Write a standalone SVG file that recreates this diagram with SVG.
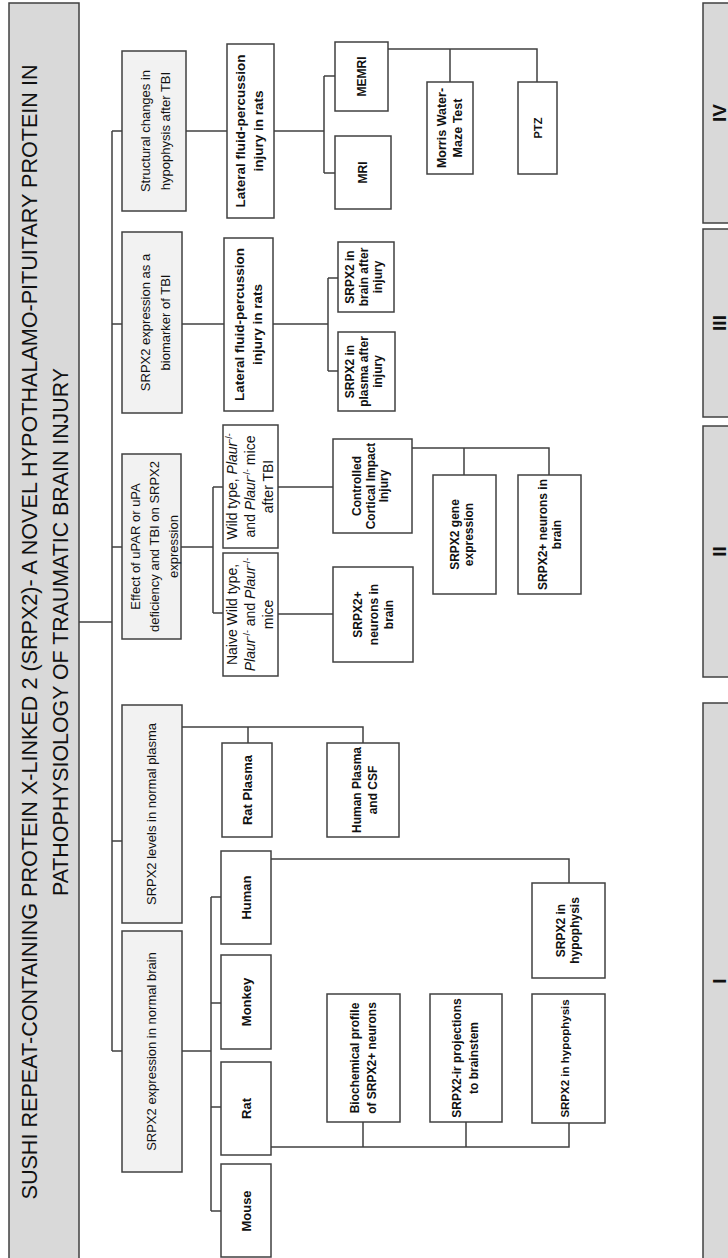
<svg xmlns="http://www.w3.org/2000/svg" width="728" height="1258" viewBox="0 0 728 1258">
<style>
text{font-family:"Liberation Sans",Arial,sans-serif;fill:#111;text-anchor:middle}
.ttl{font-size:22.5px}
.l1t{font-size:13px}
.mt{font-size:14px}
.bt{font-size:12px;font-weight:bold}
.bt13{font-size:13px;font-weight:bold}
.bt135{font-size:13.5px;font-weight:bold}
.rn{font-size:19px;font-weight:bold}
.hd{fill:#d9d9d9;stroke:#404040;stroke-width:1.5}
.l1{fill:#f2f2f2;stroke:#404040;stroke-width:1.5}
.bx{fill:#fff;stroke:#404040;stroke-width:1.5}
#connectors path{fill:none;stroke:#404040;stroke-width:1.5}
.i{font-style:italic}
</style>
<rect x="0" y="0" width="728" height="1258" fill="#fff"/>
<g id="connectors">
<path d="M79,622 H112"/>
<path d="M112,131 V1051"/>
<path d="M112,131 H122 M112,324 H122 M112,547 H122 M112,841 H122 M112,1051 H122"/>
<path d="M186,131 H227"/>
<path d="M274,131 H324 M324,76 V173 M324,76 H335 M324,173 H335"/>
<path d="M388,49 H537 V82 M450,49 V82"/>
<path d="M182,324 H224"/>
<path d="M273,324 H328 M328,278 V371 M328,278 H338 M328,371 H338"/>
<path d="M181,547 H213 M213,487 V613 M213,487 H223 M213,613 H223"/>
<path d="M278,487 H333 M278,614 H333"/>
<path d="M412,448 H549 V475 M464,448 V475"/>
<path d="M182,727 H363 V743 M248,727 V743"/>
<path d="M182,1051 H211 M211,897 V1211 M211,897 H221 M211,1003 H221 M211,1107 H221 M211,1211 H221"/>
<path d="M271,859 H569 V883"/>
<path d="M271,1147 H569 V1123 M363,1147 V1122 M466,1147 V1122"/>
</g>
<g id="title"><rect class="hd" x="9" y="3" width="70" height="1260"/>
<g transform="translate(44 632) rotate(-90)"><text class="ttl" y="-7" textLength="1135" lengthAdjust="spacingAndGlyphs">SUSHI REPEAT-CONTAINING PROTEIN X-LINKED 2 (SRPX2)- A NOVEL HYPOTHALAMO-PITUITARY PROTEIN IN</text><text class="ttl" y="24" textLength="528" lengthAdjust="spacingAndGlyphs">PATHOPHYSIOLOGY OF TRAUMATIC BRAIN INJURY</text></g></g>
<g id="phase-IV"><rect class="hd" x="703" y="3" width="30" height="220"/><text class="rn" transform="translate(718 113) rotate(-90)" y="8">IV</text></g>
<g id="phase-III"><rect class="hd" x="703" y="229" width="30" height="188"/><text class="rn" transform="translate(718 323) rotate(-90)" y="8">III</text></g>
<g id="phase-II"><rect class="hd" x="703" y="426" width="30" height="251"/><text class="rn" transform="translate(718 551.5) rotate(-90)" y="8">II</text></g>
<g id="phase-I"><rect class="hd" x="703" y="703" width="30" height="560"/><text class="rn" transform="translate(718 981) rotate(-90)" y="8">I</text></g>

<g id="n-structural"><rect class="l1" x="122" y="51" width="64" height="160"/>
<g transform="translate(154 131) rotate(-90)"><text class="l1t" y="-4">Structural changes in</text><text class="l1t" y="16">hypophysis after TBI</text></g></g>
<g id="n-biomarker"><rect class="l1" x="122" y="232" width="60" height="181"/>
<g transform="translate(152 322.5) rotate(-90)"><text class="l1t" y="-2">SRPX2 expression as a</text><text class="l1t" y="18">biomarker of TBI</text></g></g>
<g id="n-effect"><rect class="l1" x="122" y="454" width="59" height="185"/>
<g transform="translate(151.5 546.5) rotate(-90)"><text class="l1t" y="-11.5">Effect of uPAR or uPA</text><text class="l1t" y="7.5">deficiency and TBI on SRPX2</text><text class="l1t" y="26.5">expression</text></g></g>
<g id="n-plasma-levels"><rect class="l1" x="122" y="705" width="60" height="218"/>
<g transform="translate(152 814) rotate(-90)"><text class="l1t" y="4">SRPX2 levels in normal plasma</text></g></g>
<g id="n-normal-brain"><rect class="l1" x="122" y="931" width="60" height="241"/>
<g transform="translate(152 1051.5) rotate(-90)"><text class="l1t" y="4">SRPX2 expression in normal brain</text></g></g>

<g id="n-lfp-structural"><rect class="bx" x="227" y="44" width="47" height="174"/>
<g transform="translate(250.5 131) rotate(-90)"><text class="bt135" y="-5.5">Lateral fluid-percussion</text><text class="bt135" y="12.5">injury in rats</text></g></g>
<g id="n-memri"><rect class="bx" x="335" y="42" width="53" height="69"/>
<g transform="translate(361.5 76.5) rotate(-90)"><text class="bt" y="4.5">MEMRI</text></g></g>
<g id="n-mri"><rect class="bx" x="335" y="136" width="56" height="73"/>
<g transform="translate(363 172.5) rotate(-90)"><text class="bt" y="4">MRI</text></g></g>
<g id="n-morris"><rect class="bx" x="427" y="82" width="46" height="92"/>
<g transform="translate(450 128) rotate(-90)"><text class="bt" style="font-size:12.5px" y="-4">Morris Water-</text><text class="bt" style="font-size:12.5px" y="12">Maze Test</text></g></g>
<g id="n-ptz"><rect class="bx" x="518" y="82" width="39" height="92"/>
<g transform="translate(537.5 128) rotate(-90)"><text class="bt" style="font-size:11px" y="4.5">PTZ</text></g></g>

<g id="n-lfp-biomarker"><rect class="bx" x="224" y="238" width="49" height="173"/>
<g transform="translate(248.5 324.5) rotate(-90)"><text class="bt135" y="-4.5">Lateral fluid-percussion</text><text class="bt135" y="13.5">injury in rats</text></g></g>
<g id="n-brain-after"><rect class="bx" x="338" y="242" width="56" height="70"/>
<g transform="translate(366 277) rotate(-90)"><text class="bt" y="-12">SRPX2 in</text><text class="bt" y="2">brain after</text><text class="bt" y="16">injury</text></g></g>
<g id="n-plasma-after"><rect class="bx" x="338" y="332" width="57" height="79"/>
<g transform="translate(366.5 371.5) rotate(-90)"><text class="bt" y="-12.5">SRPX2 in</text><text class="bt" y="1.5">plasma after</text><text class="bt" y="15.5">injury</text></g></g>

<g id="n-wild-tbi"><rect class="bx" x="223" y="425" width="55" height="123"/>
<g transform="translate(250.5 486.5) rotate(-90)"><text class="mt" y="-13.5">Wild type, <tspan class="i">Plaur</tspan><tspan font-size="9" baseline-shift="super">-/-</tspan></text><text class="mt" y="4.5">and <tspan class="i">Plaur</tspan><tspan font-size="9" baseline-shift="super">-/-</tspan> mice</text><text class="mt" y="22.5">after TBI</text></g></g>
<g id="n-naive"><rect class="bx" x="223" y="553" width="55" height="123"/>
<g transform="translate(250.5 614.5) rotate(-90)"><text class="mt" y="-13.5">Naive Wild type,</text><text class="mt" y="4.5"><tspan class="i">Plaur</tspan><tspan font-size="9" baseline-shift="super">-/-</tspan> and <tspan class="i">Plaur</tspan><tspan font-size="9" baseline-shift="super">-/-</tspan></text><text class="mt" y="22.5">mice</text></g></g>
<g id="n-cci"><rect class="bx" x="333" y="439" width="79" height="94"/>
<g transform="translate(372.5 486) rotate(-90)"><text class="bt" y="-11.5">Controlled</text><text class="bt" y="2">Cortical Impact</text><text class="bt" y="15.5">Injury</text></g></g>
<g id="n-neurons-naive"><rect class="bx" x="333" y="567" width="80" height="95"/>
<g transform="translate(373 614.5) rotate(-90)"><text class="bt" y="-11">SRPX2+</text><text class="bt" y="4.5">neurons in</text><text class="bt" y="20">brain</text></g></g>
<g id="n-gene-expression"><rect class="bx" x="433" y="475" width="63" height="119"/>
<g transform="translate(464.5 534.5) rotate(-90)"><text class="bt" y="-5.5">SRPX2 gene</text><text class="bt" y="8.5">expression</text></g></g>
<g id="n-neurons-cci"><rect class="bx" x="518" y="475" width="63" height="119"/>
<g transform="translate(549.5 534.5) rotate(-90)"><text class="bt" y="-2.5">SRPX2+ neurons in</text><text class="bt" y="11.5">brain</text></g></g>

<g id="n-rat-plasma"><rect class="bx" x="222" y="743" width="50" height="94"/>
<g transform="translate(247 790) rotate(-90)"><text class="bt13" y="4.5">Rat Plasma</text></g></g>
<g id="n-human-plasma"><rect class="bx" x="327" y="743" width="72" height="94"/>
<g transform="translate(363 790) rotate(-90)"><text class="bt" y="-2">Human Plasma</text><text class="bt" y="14">and CSF</text></g></g>

<g id="n-human"><rect class="bx" x="221" y="851" width="50" height="93"/>
<g transform="translate(246 897.5) rotate(-90)"><text class="bt13" y="5">Human</text></g></g>
<g id="n-monkey"><rect class="bx" x="221" y="955" width="50" height="94"/>
<g transform="translate(246 1002) rotate(-90)"><text class="bt13" y="5">Monkey</text></g></g>
<g id="n-rat"><rect class="bx" x="221" y="1062" width="50" height="93"/>
<g transform="translate(246 1108.5) rotate(-90)"><text class="bt13" y="5">Rat</text></g></g>
<g id="n-mouse"><rect class="bx" x="221" y="1164" width="50" height="93"/>
<g transform="translate(246 1211) rotate(-90)"><text class="bt13" y="5">Mouse</text></g></g>

<g id="n-biochem"><rect class="bx" x="327" y="994" width="73" height="128"/>
<g transform="translate(363.5 1058) rotate(-90)"><text class="bt" y="-4.5">Biochemical profile</text><text class="bt" y="12.5">of SRPX2+ neurons</text></g></g>
<g id="n-projections"><rect class="bx" x="430" y="994" width="72" height="128"/>
<g transform="translate(466 1058) rotate(-90)"><text class="bt" y="-5">SRPX2-ir projections</text><text class="bt" y="12">to brainstem</text></g></g>
<g id="n-hypophysis-rat"><rect class="bx" x="532" y="994" width="73" height="129"/>
<g transform="translate(568.5 1058.5) rotate(-90)"><text class="bt" style="font-size:11.5px" y="0">SRPX2 in hypophysis</text></g></g>
<g id="n-hypophysis-human"><rect class="bx" x="532" y="883" width="73" height="95"/>
<g transform="translate(568.5 930.5) rotate(-90)"><text class="bt" y="-3.5">SRPX2 in</text><text class="bt" y="10.5">hypophysis</text></g></g>
</svg>
